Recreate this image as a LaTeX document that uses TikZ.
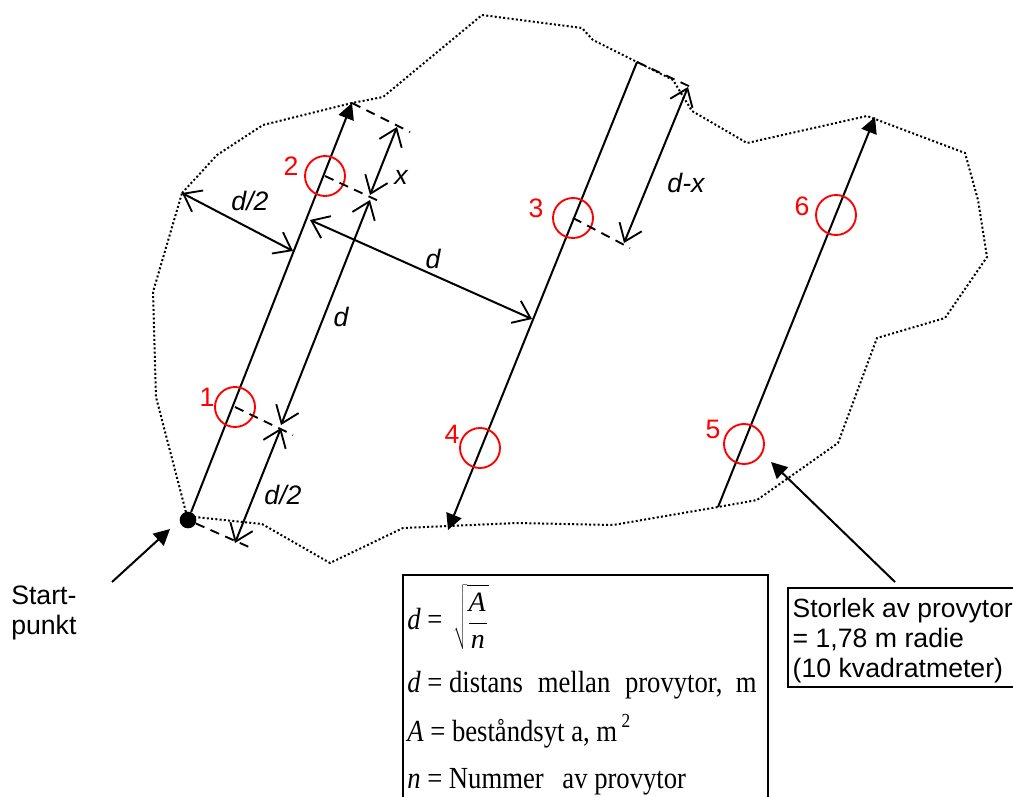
\documentclass[tikz,border=0pt]{standalone}
\usepackage{fontspec}
\setmainfont{Liberation Sans}
\newfontfamily\timesfont{Liberation Serif}
\usepackage{xcolor}
\usetikzlibrary{arrows.meta, positioning}
\newcommand{\hog}[1]{\scalebox{1}[1.15]{#1}}
\begin{document}
\begin{tikzpicture}[
    x=0.75pt, y=-0.75pt,
    grans/.style={line width=1.5pt, dash pattern=on 1.5pt off 1.7pt},
    fylld/.style={-{Triangle[length=12pt, width=12pt]}, line width=1.5pt},
    matt/.style={{Straight Barb[length=12pt, width=18pt, line width=1.4pt]}-{Straight Barb[length=12pt, width=18pt, line width=1.4pt]}, line width=1.5pt},
    hjalp/.style={line width=1.4pt, dash pattern=on 7pt off 5pt},
    prov/.style={draw=red, circle, line width=1.4pt, minimum size=30pt, inner sep=0pt},
    nummer/.style={text=red, font=\fontsize{20}{22}\selectfont, inner sep=0pt},
    etikett/.style={font=\fontsize{20}{22}\selectfont\itshape, inner sep=0pt},
    text20/.style={font=\fontsize{20}{22.5}\selectfont, align=left, inner sep=0pt},
    formel/.style={font=\timesfont\fontsize{20}{22}\selectfont, anchor=west, inner sep=0pt}
]
\useasboundingbox (0,0) rectangle (1013,796);

\draw[grans] (182,193) -- (217,155) -- (263,125) -- (352,103) -- (383,97) -- (482,15) -- (582,28) -- (593,40) -- (637,62) -- (673,80) -- (692,111) -- (747,143) -- (867,116) -- (965,153) -- (978,200) -- (987,257) -- (945,318) -- (877,338) -- (838,443) -- (757,500) -- (718,507) -- (613,525) -- (517,523) -- (403,528) -- (330,563) -- (262,524) -- (195,517) -- (188,520) -- (156,397) -- (153,292) -- cycle;

\node[fill=black, circle, minimum size=12.5pt, inner sep=0pt] (start) at (188,520) {};
\coordinate (topp1) at (352,103);
\coordinate (topp2) at (637,62);
\coordinate (botten2) at (448,530);
\coordinate (botten3) at (718,507);
\coordinate (topp3) at (875,117);

\draw[fylld] (start) -- (topp1);
\draw[fylld] (topp2) -- (botten2);
\draw[fylld] (botten3) -- (topp3);

\foreach \nr/\cx/\cy/\lx/\ly in {1/235/407/207/397, 2/325/176/291/166, 3/573/218/536/208, 4/480/448/452/434, 5/744/444/713/429, 6/836/215/802/206} {
    \node[prov] (prov\nr) at (\cx,\cy) {};
    \node[nummer] (nr\nr) at (\lx,\ly) {\nr};
}

\coordinate (h1) at (293,435);
\coordinate (h0) at (249,547);
\coordinate (h2) at (383,203);
\coordinate (h4) at (410,132);
\coordinate (h3) at (630,248);
\coordinate (h5) at (693,88);

\draw[hjalp] (prov1.center) -- (h1);
\draw[hjalp] (start) -- (h0);
\draw[hjalp] (prov2.center) -- (h2);
\draw[hjalp] (topp1) -- (h4);
\draw[hjalp] (prov3.center) -- (h3);
\draw[hjalp] (topp2) -- (h5);

\coordinate (a1) at (281,428);
\coordinate (a2) at (235,543);
\coordinate (b1) at (370,200);
\coordinate (b2) at (281,425);
\coordinate (c1) at (397,127);
\coordinate (c2) at (370,195);
\coordinate (e1) at (182,193);
\coordinate (e2) at (293,251);
\coordinate (f1) at (310,220);
\coordinate (f2) at (532,319);
\coordinate (g1) at (688,87);
\coordinate (g2) at (624,243);

\draw[matt] (a1) -- (a2);
\draw[matt] (b1) -- (b2);
\draw[matt] (c1) -- (c2);
\draw[matt] (e1) -- (e2);
\draw[matt] (f1) -- (f2);
\draw[matt] (g1) -- (g2);

\node[etikett] (halv1) at (250,201) {d/2};
\node[etikett] (halv2) at (283,495) {d/2};
\node[etikett] (xmatt) at (401,177) {x};
\node[etikett] (dmatt1) at (433,259) {d};
\node[etikett] (dmatt2) at (341,317) {d};
\node[etikett] (dxmatt) at (686,183) {d-x};

\node[text20, anchor=north west] (startlabel) at (11,586) {Start-\\punkt};
\coordinate (startfot) at (112,582);
\coordinate (starttopp) at (170,529);
\draw[fylld] (startfot) -- (starttopp);

\node[draw, line width=1.5pt, anchor=north west, minimum width=273.75pt, minimum height=180pt] (formelbox) at (402,574) {};
\node[formel] (f1text) at (407,617) {\hog{\textit{d} =}\hspace{8pt}$\displaystyle\sqrt{\frac{\rule[-2pt]{0pt}{18pt}\mbox{\fontsize{21}{22}\selectfont\textit{A}}\hspace{1pt}}{\rule{0pt}{17pt}\mbox{\fontsize{21}{22}\selectfont\textit{n}}}}$};
\node[formel] (f2text) at (407,685) {\hog{\textit{d} = distans\hspace{6pt} mellan\hspace{6pt} provytor,\hspace{5pt} m}};
\node[formel] (f3text) at (407,731) {\hog{\textit{A} = beståndsyt a, m\,\raisebox{9pt}{\fontsize{13}{13}\selectfont 2}}};
\node[formel] (f4text) at (407,782) {\hog{\textit{n} = Nummer\hspace{9pt} av provytor}};

\node[draw, line width=1.5pt, text20, anchor=north west, inner xsep=3.5pt, inner ysep=3pt, minimum height=74pt] (storlek) at (787,587) {\fontsize{19.8}{22.5}\selectfont\rule{0pt}{19pt}Storlek av provytor\\= 1,78 m radie\\(10 kvadratmeter)};
\coordinate (storlekfot) at (895,582);
\coordinate (storlektopp) at (771,462);
\draw[fylld] (storlekfot) -- (storlektopp);

\end{tikzpicture}
\end{document}
